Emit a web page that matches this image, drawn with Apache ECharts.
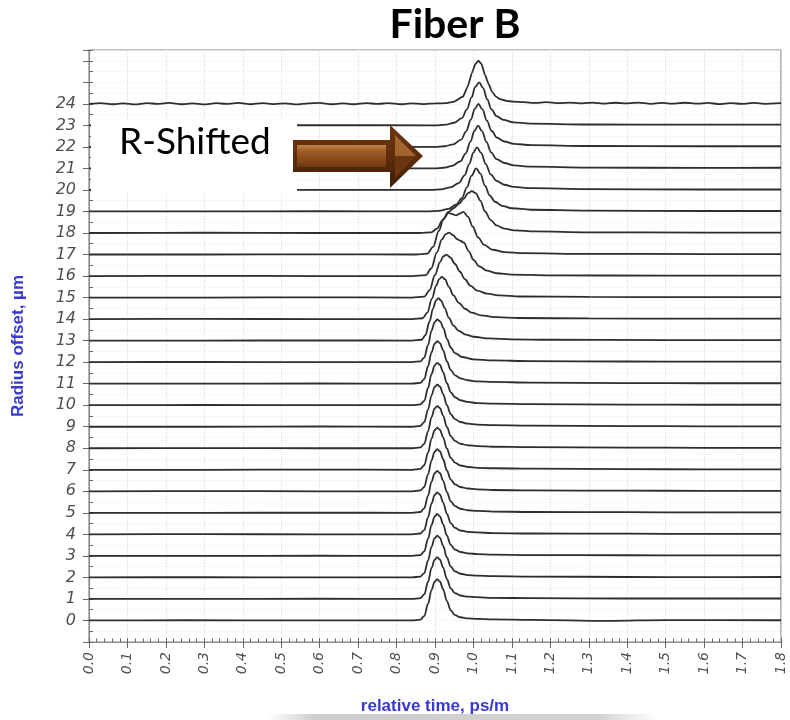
<!DOCTYPE html>
<html>
<head>
<meta charset="utf-8">
<script src="https://cdn.jsdelivr.net/npm/echarts@6/dist/echarts.min.js"></script>
<style>
  html, body { margin: 0; padding: 0; background: #ffffff; }
  #chart { width: 790px; height: 720px; }
</style>
</head>
<body>
<div id="chart"></div>
<script>
// Pulse traces recorded at each radius offset (µm).
// Each trace: [relative time (ps/m), pulse amplitude above its own baseline].
const radiusOffsets = [0, 1, 2, 3, 4, 5, 6, 7, 8, 9, 10, 11, 12, 13, 14, 15, 16, 17, 18, 19, 20, 21, 22, 23, 24];
const radiusLabels = ['0','1','2','3','4','5','6','7','8','9','10','11','12','13','14','15','16','17','18','19','20','21','22','23','24'];
const timeTicks = [0.0, 0.1, 0.2, 0.3, 0.4, 0.5, 0.6, 0.7, 0.8, 0.9, 1.0, 1.1, 1.2, 1.3, 1.4, 1.5, 1.6, 1.7, 1.8];

const trace00 = [[0,0],[0.25,0.01],[0.55,0],[0.84,0],[0.862,0.04],[0.872,0.2],[0.882,0.78],[0.891,1.42],[0.899,1.8],[0.906,1.92],[0.913,1.8],[0.921,1.45],[0.931,0.9],[0.941,0.47],[0.952,0.25],[0.966,0.15],[0.985,0.1],[1.01,0.07],[1.05,0.05],[1.15,0.03],[1.35,-0.02],[1.5,0.02],[1.8,0.01]];
const trace01 = [[0,0],[0.3,0],[0.6,0.01],[0.84,0],[0.862,0.04],[0.872,0.21],[0.882,0.8],[0.891,1.44],[0.899,1.82],[0.906,1.94],[0.913,1.82],[0.921,1.46],[0.931,0.92],[0.941,0.49],[0.952,0.27],[0.966,0.16],[0.985,0.11],[1.01,0.08],[1.05,0.05],[1.15,0.04],[1.4,0.02],[1.6,0.02],[1.8,0.02]];
const trace02 = [[0,0],[0.3,0.01],[0.6,0],[0.84,0],[0.862,0.04],[0.872,0.2],[0.882,0.79],[0.891,1.43],[0.899,1.82],[0.906,1.94],[0.913,1.83],[0.921,1.47],[0.931,0.93],[0.941,0.5],[0.952,0.28],[0.966,0.17],[0.985,0.11],[1.01,0.08],[1.05,0.06],[1.15,0.04],[1.4,0.02],[1.6,0.01],[1.8,0.02]];
const trace03 = [[0,0],[0.3,0],[0.6,0.01],[0.84,0],[0.862,0.04],[0.872,0.21],[0.882,0.8],[0.891,1.44],[0.899,1.83],[0.906,1.95],[0.913,1.83],[0.921,1.48],[0.931,0.94],[0.941,0.51],[0.952,0.29],[0.966,0.18],[0.985,0.12],[1.01,0.08],[1.05,0.06],[1.15,0.04],[1.4,0.03],[1.6,0.02],[1.8,0.02]];
const trace04 = [[0,0],[0.3,0.01],[0.6,0],[0.84,0],[0.862,0.04],[0.872,0.2],[0.882,0.79],[0.891,1.44],[0.899,1.83],[0.906,1.95],[0.913,1.84],[0.921,1.49],[0.931,0.95],[0.941,0.52],[0.952,0.3],[0.966,0.18],[0.985,0.12],[1.01,0.09],[1.05,0.06],[1.15,0.04],[1.4,0.03],[1.6,0.02],[1.8,0.02]];
const trace05 = [[0,0],[0.3,0],[0.6,0.01],[0.84,0],[0.862,0.04],[0.872,0.21],[0.882,0.8],[0.891,1.45],[0.899,1.84],[0.906,1.95],[0.913,1.84],[0.921,1.5],[0.931,0.96],[0.941,0.53],[0.952,0.31],[0.966,0.19],[0.985,0.12],[1.01,0.09],[1.05,0.06],[1.15,0.04],[1.4,0.03],[1.6,0.02],[1.8,0.02]];
const trace06 = [[0,0],[0.3,0.01],[0.6,0],[0.84,0],[0.862,0.04],[0.872,0.2],[0.882,0.79],[0.891,1.44],[0.899,1.84],[0.906,1.96],[0.913,1.85],[0.921,1.5],[0.931,0.97],[0.941,0.54],[0.952,0.32],[0.966,0.2],[0.985,0.13],[1.01,0.09],[1.05,0.06],[1.15,0.04],[1.4,0.03],[1.6,0.02],[1.8,0.02]];
const trace07 = [[0,0],[0.3,0],[0.6,0.01],[0.84,0],[0.862,0.04],[0.872,0.21],[0.882,0.8],[0.891,1.45],[0.899,1.84],[0.906,1.96],[0.913,1.85],[0.921,1.51],[0.931,0.98],[0.941,0.55],[0.952,0.33],[0.966,0.2],[0.985,0.13],[1.01,0.09],[1.05,0.07],[1.15,0.05],[1.4,0.03],[1.6,0.02],[1.8,0.02]];
const trace08 = [[0,0],[0.3,0.01],[0.6,0],[0.84,0],[0.862,0.04],[0.872,0.2],[0.882,0.8],[0.891,1.45],[0.899,1.85],[0.906,1.96],[0.913,1.86],[0.921,1.52],[0.931,0.99],[0.941,0.56],[0.952,0.34],[0.966,0.21],[0.985,0.14],[1.01,0.1],[1.05,0.07],[1.15,0.05],[1.4,0.03],[1.6,0.02],[1.8,0.02]];
const trace09 = [[0,0],[0.3,0],[0.6,0.01],[0.84,0],[0.862,0.04],[0.872,0.21],[0.882,0.81],[0.891,1.46],[0.899,1.85],[0.906,1.96],[0.913,1.86],[0.921,1.53],[0.931,1.0],[0.941,0.58],[0.952,0.35],[0.966,0.22],[0.985,0.14],[1.01,0.1],[1.05,0.07],[1.15,0.05],[1.4,0.03],[1.6,0.02],[1.8,0.02]];
const trace10 = [[0,0],[0.3,0.01],[0.6,0],[0.84,0],[0.862,0.04],[0.872,0.2],[0.882,0.8],[0.891,1.45],[0.899,1.85],[0.906,1.97],[0.913,1.87],[0.921,1.54],[0.931,1.02],[0.941,0.6],[0.952,0.37],[0.966,0.23],[0.985,0.15],[1.01,0.1],[1.05,0.07],[1.15,0.05],[1.4,0.03],[1.6,0.02],[1.8,0.02]];
const trace11 = [[0,0],[0.3,0],[0.6,0.01],[0.84,0],[0.862,0.04],[0.872,0.21],[0.882,0.81],[0.891,1.46],[0.899,1.86],[0.906,1.97],[0.913,1.88],[0.921,1.56],[0.931,1.04],[0.941,0.63],[0.952,0.39],[0.966,0.25],[0.985,0.16],[1.01,0.11],[1.05,0.08],[1.15,0.05],[1.4,0.03],[1.6,0.02],[1.8,0.02]];
const trace12 = [[0,0],[0.3,0.01],[0.6,0],[0.84,0],[0.862,0.04],[0.872,0.21],[0.882,0.8],[0.891,1.46],[0.899,1.86],[0.906,1.98],[0.914,1.88],[0.922,1.58],[0.931,1.08],[0.941,0.68],[0.952,0.42],[0.97,0.24],[1.0,0.13],[1.05,0.08],[1.15,0.05],[1.4,0.03],[1.6,0.02],[1.8,0.02]];
const trace13 = [[0,0],[0.3,0],[0.6,0.01],[0.84,0],[0.865,0.04],[0.875,0.25],[0.886,0.9],[0.895,1.5],[0.902,1.85],[0.909,1.97],[0.916,1.86],[0.925,1.52],[0.936,1.06],[0.948,0.7],[0.962,0.45],[0.98,0.28],[1.0,0.18],[1.04,0.1],[1.1,0.06],[1.2,0.04],[1.5,0.02],[1.8,0.02]];
const trace14 = [[0,0],[0.3,0.01],[0.6,0],[0.84,0],[0.868,0.04],[0.88,0.3],[0.892,0.95],[0.903,1.55],[0.911,1.86],[0.918,1.96],[0.926,1.85],[0.936,1.5],[0.948,1.1],[0.962,0.75],[0.978,0.48],[0.995,0.3],[1.02,0.17],[1.06,0.09],[1.12,0.05],[1.3,0.03],[1.6,0.02],[1.8,0.02]];
const trace15 = [[0,0],[0.3,0],[0.6,0.01],[0.84,0],[0.872,0.04],[0.886,0.35],[0.9,1.05],[0.913,1.65],[0.922,1.92],[0.93,1.99],[0.94,1.86],[0.952,1.56],[0.965,1.2],[0.978,0.85],[0.992,0.55],[1.01,0.32],[1.035,0.18],[1.07,0.1],[1.12,0.05],[1.3,0.03],[1.6,0.02],[1.8,0.02]];
const trace16 = [[0,0],[0.3,0.01],[0.6,0],[0.84,0],[0.876,0.04],[0.89,0.35],[0.905,1.1],[0.918,1.7],[0.928,1.95],[0.937,2.02],[0.947,1.9],[0.957,1.72],[0.966,1.64],[0.975,1.55],[0.988,1.15],[1.0,0.75],[1.015,0.45],[1.035,0.25],[1.06,0.13],[1.1,0.07],[1.2,0.03],[1.5,0.02],[1.8,0.02]];
const trace17 = [[0,0],[0.3,0],[0.6,0.01],[0.85,0],[0.88,0.04],[0.895,0.35],[0.91,1.1],[0.922,1.65],[0.935,1.93],[0.945,1.88],[0.955,1.82],[0.964,1.9],[0.974,1.98],[0.986,1.75],[0.998,1.3],[1.012,0.8],[1.028,0.45],[1.05,0.22],[1.08,0.11],[1.13,0.06],[1.3,0.03],[1.6,0.02],[1.8,0.02]];
const trace18 = [[0,0],[0.3,0.01],[0.6,0],[0.86,0],[0.89,0.03],[0.905,0.2],[0.92,0.6],[0.935,0.98],[0.948,1.15],[0.962,1.35],[0.975,1.6],[0.986,1.85],[0.996,1.94],[1.006,1.85],[1.018,1.5],[1.03,1.0],[1.045,0.6],[1.06,0.35],[1.08,0.2],[1.11,0.12],[1.16,0.07],[1.3,0.03],[1.6,0.02],[1.8,0.02]];
const trace19 = [[0,0],[0.3,0],[0.6,0.01],[0.88,0],[0.91,0.03],[0.935,0.12],[0.955,0.32],[0.97,0.62],[0.983,1.12],[0.995,1.66],[1.007,2.0],[1.018,1.76],[1.03,1.2],[1.042,0.75],[1.056,0.45],[1.075,0.26],[1.1,0.15],[1.15,0.08],[1.3,0.04],[1.6,0.02],[1.8,0.02]];
const trace20 = [[0,0],[0.3,0.01],[0.6,0],[0.89,0],[0.915,0.03],[0.94,0.12],[0.962,0.32],[0.977,0.68],[0.989,1.2],[1.0,1.74],[1.009,1.98],[1.02,1.72],[1.032,1.2],[1.045,0.72],[1.06,0.42],[1.08,0.24],[1.105,0.14],[1.15,0.08],[1.3,0.04],[1.6,0.02],[1.8,0.02]];
const trace21 = [[0,0],[0.3,0],[0.6,0.01],[0.9,0],[0.922,0.03],[0.945,0.12],[0.966,0.33],[0.98,0.7],[0.992,1.24],[1.003,1.76],[1.012,1.99],[1.022,1.74],[1.034,1.22],[1.046,0.74],[1.06,0.43],[1.08,0.25],[1.105,0.14],[1.15,0.08],[1.3,0.04],[1.6,0.02],[1.8,0.03]];
const trace22 = [[0,0],[0.3,0.01],[0.6,0],[0.9,0],[0.925,0.03],[0.948,0.12],[0.968,0.34],[0.981,0.72],[0.993,1.26],[1.004,1.78],[1.013,2.0],[1.023,1.75],[1.035,1.22],[1.047,0.75],[1.061,0.43],[1.08,0.25],[1.105,0.14],[1.15,0.08],[1.3,0.04],[1.6,0.03],[1.8,0.03]];
const trace23 = [[0,0],[0.3,0],[0.6,0.01],[0.9,0],[0.928,0.03],[0.95,0.12],[0.97,0.34],[0.983,0.74],[0.995,1.3],[1.005,1.8],[1.015,2.0],[1.025,1.74],[1.036,1.2],[1.047,0.74],[1.06,0.43],[1.078,0.25],[1.104,0.14],[1.147,0.08],[1.3,0.04],[1.6,0.03],[1.8,0.03]];
const trace24 = [[0,0],[0.03,0.03],[0.06,-0.02],[0.09,0.02],[0.12,-0.03],[0.15,0.03],[0.18,0],[0.21,0.04],[0.24,-0.02],[0.27,0.02],[0.3,-0.03],[0.33,0.03],[0.36,0],[0.39,0.04],[0.42,-0.02],[0.45,0.03],[0.48,-0.01],[0.51,0.02],[0.54,-0.03],[0.57,0.02],[0.6,0.04],[0.63,-0.02],[0.66,0.02],[0.69,-0.02],[0.72,0.03],[0.75,0],[0.78,0.03],[0.81,-0.02],[0.84,0.02],[0.87,-0.01],[0.9,0.02],[0.93,0.03],[0.95,0.1],[0.973,0.34],[0.985,0.8],[0.996,1.43],[1.005,1.85],[1.013,2.0],[1.021,1.85],[1.03,1.34],[1.04,0.9],[1.048,0.57],[1.058,0.35],[1.069,0.22],[1.085,0.14],[1.103,0.1],[1.13,0.08],[1.16,0.04],[1.19,0.08],[1.22,0.03],[1.25,0.06],[1.28,0.02],[1.31,0.06],[1.34,0.01],[1.37,0.05],[1.4,0.02],[1.43,0.06],[1.46,0],[1.49,0.04],[1.52,0.01],[1.55,0.05],[1.58,0.01],[1.61,0.04],[1.64,-0.01],[1.67,0.03],[1.7,0],[1.73,0.04],[1.76,0],[1.8,0.03]];

const traces = [trace00, trace01, trace02, trace03, trace04, trace05, trace06, trace07, trace08, trace09,
                trace10, trace11, trace12, trace13, trace14, trace15, trace16, trace17, trace18, trace19,
                trace20, trace21, trace22, trace23, trace24];

const chart = echarts.init(document.getElementById('chart'));

// Each pulse is drawn on top of its radius-offset baseline.
const series = traces.map((pts, i) => ({
  type: 'line',
  name: radiusLabels[i],
  xAxisIndex: 0,
  yAxisIndex: 0,
  data: pts.map(p => [p[0], radiusOffsets[i] + p[1]]),
  showSymbol: false,
  smooth: i === 24 ? 0.15 : 0.35,
  smoothMonotone: 'x',
  lineStyle: { color: '#2e2e2e', width: 1.8 },
  silent: true,
  z: 2
}));

const tickFont = { fontFamily: 'DejaVu Sans', fontStyle: 'italic', color: '#4e4e4e' };
const frameColor = '#8c8c8c';
const vGridDots = { color: '#cde6ec', type: 'dotted', width: 1 };
const hGridDots = { color: '#eaf4f6', type: 'dotted', width: 1 };
const nameStyle = { color: '#3838d2', fontWeight: 'bold', fontSize: 17, fontFamily: 'Liberation Sans' };

const option = {
  animation: false,
  backgroundColor: '#ffffff',
  grid: {
    left: 89, right: 9, top: 50, bottom: 76,
    containLabel: false,
    show: true, borderColor: frameColor, borderWidth: 1.2
  },
  xAxis: [
    {
      type: 'value', position: 'bottom', min: 0, max: 1.8, interval: 0.1,
      axisLine: { show: true, onZero: false, lineStyle: { color: frameColor, width: 1.2 } },
      axisTick: { show: true, inside: false, length: 6, lineStyle: { color: '#666' } },
      axisLabel: {
        show: true, rotate: 90, margin: 10, fontSize: 14, ...tickFont,
        formatter: v => {
          const k = timeTicks.findIndex(t => Math.abs(t - v) < 1e-6);
          return k >= 0 ? timeTicks[k].toFixed(1) : '';
        }
      },
      splitLine: { show: true, lineStyle: vGridDots },
      name: 'relative time, ps/m', nameLocation: 'middle', nameGap: 56,
      nameTextStyle: nameStyle
    },
    {
      type: 'value', position: 'bottom', min: 0, max: 1.8, interval: 0.1,
      axisLine: { show: false, onZero: false },
      axisTick: { show: true, inside: true, length: 4, lineStyle: { color: '#666' } },
      minorTick: { show: true, splitNumber: 5, length: 3.5, lineStyle: { color: '#666' } },
      axisLabel: { show: false },
      splitLine: { show: false }
    }
  ],
  yAxis: [
    {
      type: 'value', position: 'left', min: -1, max: 26.5, interval: 1,
      axisLine: { show: true, onZero: false, lineStyle: { color: frameColor, width: 1.2 } },
      axisTick: { show: true, inside: false, length: 6, lineStyle: { color: '#666' } },
      axisLabel: {
        show: true, margin: 13, fontSize: 16, ...tickFont,
        formatter: v => {
          const k = radiusOffsets.indexOf(v);
          return k >= 0 ? radiusLabels[k] : '';
        }
      },
      splitLine: { show: true, lineStyle: hGridDots },
      name: 'Radius offset, µm', nameLocation: 'middle', nameGap: 62, nameRotate: 90,
      nameTextStyle: nameStyle
    },
    {
      type: 'value', position: 'left', min: -1, max: 26.5, interval: 1,
      axisLine: { show: false, onZero: false },
      axisTick: { show: true, inside: true, length: 4, lineStyle: { color: '#666' } },
      minorTick: { show: true, splitNumber: 2, length: 4, lineStyle: { color: '#666' } },
      minorSplitLine: { show: true, lineStyle: hGridDots },
      axisLabel: { show: false },
      splitLine: { show: false }
    }
  ],
  series: series,
  graphic: [
    {
      type: 'text', x: 455, y: 25, z: 10,
      style: { text: 'Fiber B', fill: '#000', font: 'bold 41px Lato', align: 'center', verticalAlign: 'middle' }
    },
    // label panel
    { type: 'rect', shape: { x: 91, y: 120, width: 206, height: 72 }, style: { fill: '#ffffff' }, z: 20 },
    {
      type: 'text', x: 119, y: 142, z: 21,
      style: { text: 'R-Shifted', fill: '#000', font: '37px Lato', align: 'left', verticalAlign: 'middle' }
    },
    // arrow body
    {
      type: 'polygon', z: 22,
      shape: { points: [[293,140],[390,140],[390,125],[423,156],[390,188],[390,172],[293,172]] },
      style: {
        fill: new echarts.graphic.LinearGradient(0, 0, 0, 1, [
          { offset: 0, color: '#6e3610' }, { offset: 0.5, color: '#5e2e0c' }, { offset: 1, color: '#3c1c06' }
        ])
      }
    },
    {
      type: 'polygon', z: 23,
      shape: { points: [[297,145],[386,145],[386,167],[297,167]] },
      style: {
        fill: new echarts.graphic.LinearGradient(0, 0, 0, 1, [
          { offset: 0, color: '#c08448' }, { offset: 0.25, color: '#a0602a' }, { offset: 0.7, color: '#86481a' }, { offset: 1, color: '#703a12' }
        ])
      }
    },
    {
      type: 'polygon', z: 23,
      shape: { points: [[395,135],[416,156],[395,156]] },
      style: { fill: '#a2642e' }
    },
    {
      type: 'polygon', z: 23,
      shape: { points: [[395,156],[416,156],[395,178]] },
      style: { fill: '#6a3510' }
    },
    // soft grey strip under the axis title
    {
      type: 'rect', z: 0,
      shape: { x: 268, y: 714, width: 390, height: 8 },
      style: {
        fill: new echarts.graphic.LinearGradient(0, 0, 1, 0, [
          { offset: 0, color: 'rgba(200,200,200,0)' }, { offset: 0.12, color: 'rgba(200,200,200,0.9)' },
          { offset: 0.85, color: 'rgba(205,205,205,0.9)' }, { offset: 1, color: 'rgba(210,210,210,0)' }
        ])
      }
    }
  ]
};

chart.setOption(option);
</script>
</body>
</html>
